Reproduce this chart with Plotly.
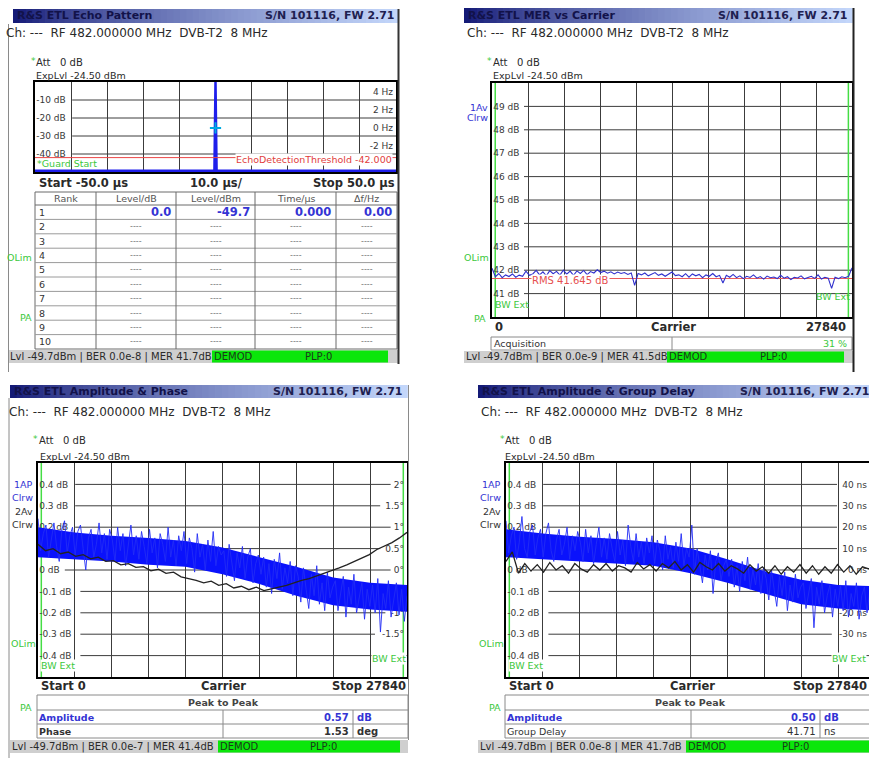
import numpy as np
import plotly.graph_objects as go

# ======================= DATA =======================
panel_titles = ["R&amp;S ETL Echo Pattern", "R&amp;S ETL MER vs Carrier",
                "R&amp;S ETL Amplitude &amp; Phase", "R&amp;S ETL Amplitude &amp; Group Delay"]
serial_text = "S/N 101116, FW 2.71"
channel_text = "Ch: ---\u00a0 RF 482.000000 MHz\u00a0 DVB-T2\u00a0 8 MHz"
att_text = "Att\u00a0\u00a0 0 dB"
explvl_text = "ExpLvl -24.50 dBm"
status_texts = ["Lvl -49.7dBm | BER 0.0e-8 | MER 41.7dB",
                "Lvl -49.7dBm | BER 0.0e-9 | MER 41.5dB",
                "Lvl -49.7dBm | BER 0.0e-7 | MER 41.4dB",
                "Lvl -49.7dBm | BER 0.0e-8 | MER 41.7dB"]
status_demod = "DEMOD"
status_plp = "PLP:0"

CARRIER_STOP = 27840
carrier_grid = [2784, 5568, 8352, 11136, 13920, 16704, 19488, 22272, 25056]
bw_ext_carriers = [250, 27560]

# --- panel 1: echo pattern
echo_time_us = [-50.0, -0.3, 0.0, 0.3, 50.0]
echo_level_db = [-49.3, -49.3, 0.0, -49.3, -49.3]
echo_threshold_db = -42.0
echo_threshold_label = "EchoDetectionThreshold -42.000"
echo_df_time_us = [0.0]
echo_df_hz = [0.0]
echo_db_ticks = [-10, -20, -30, -40]
echo_hz_ticks = [4, 2, 0, -2]
echo_time_ticks = [-40, -30, -20, -10, 0, 10, 20, 30, 40]
echo_axis_text = ["Start -50.0 µs", "10.0 µs/", "Stop 50.0 µs"]
echo_table_headers = ["Rank", "Level/dB", "Level/dBm", "Time/µs", "Δf/Hz"]
echo_table_ranks = [1, 2, 3, 4, 5, 6, 7, 8, 9, 10]
echo_table_row1 = ["0.0", "-49.7", "0.000", "0.00"]
echo_table_empty = "----"

# --- panel 2: MER vs carrier
mer_db = [42.08, 41.72, 41.86, 41.68, 41.80, 41.73, 41.84, 41.70, 41.79, 41.74,
          41.96, 41.78, 41.84, 41.99, 41.80, 41.93, 41.76, 41.98, 41.85, 41.95, 41.79,
          42.00, 41.83, 41.96, 41.78, 41.97, 41.86, 41.99, 41.81, 41.94, 41.88,
          42.02, 41.90, 41.96, 41.87, 41.93, 41.84, 41.92, 41.86, 41.90, 41.82, 41.88, 41.35,
          41.86, 41.80, 41.88, 41.76, 41.83, 41.90, 41.78, 41.84, 41.74, 41.82, 41.92, 41.77,
          41.80, 41.72, 41.85, 41.70,
          41.84, 41.76, 41.82, 41.68, 41.80, 41.74, 41.86, 41.72, 41.78, 41.45,
          41.78, 41.70, 41.82, 41.68, 41.76, 41.64, 41.74, 41.69, 41.80, 41.66, 41.73, 41.62,
          41.75, 41.68, 41.71, 41.64, 41.78, 41.66, 41.72, 41.60, 41.70, 41.67, 41.76, 41.63,
          41.69, 41.74, 41.65, 41.80, 41.62, 41.70,
          41.66, 41.22, 41.70, 41.64, 41.72, 41.68, 41.74, 42.10]
mer_rms_db = 41.645
mer_rms_label = "RMS 41.645 dB"
mer_ticks = [49, 48, 47, 46, 45, 44, 43, 42, 41]
mer_axis_text = ["0", "Carrier", "27840"]
acq_label = "Acquisition"
acq_value = "31 %"

# --- panel 3: amplitude & phase
env_carrier = [0, 2784, 5568, 8352, 11136, 13920, 16704, 19488, 22272, 25056, 27840]
amp3_upper = [0.20, 0.175, 0.16, 0.15, 0.135, 0.105, 0.06, 0.015, -0.035, -0.06, -0.07]
amp3_lower = [0.06, 0.05, 0.04, 0.025, 0.015, -0.02, -0.065, -0.12, -0.165, -0.185, -0.195]
amp3_noise = [0.24, 0.09, 0.17, 0.21, 0.06, 0.14, 0.22, 0.11, 0.04, 0.19, 0.23, 0.08, 0.16, 0.20,
              0.07, 0.18, 0.21, 0.10, 0.00, 0.15, 0.19, 0.06, 0.12, 0.22, 0.08, 0.17, 0.05, 0.19,
              0.14, 0.04, 0.20, 0.09, 0.17, 0.02, 0.13, 0.21, 0.07, 0.16, 0.05, 0.18, 0.11, 0.03,
              0.19, 0.08, 0.15, 0.01, 0.17, 0.12, 0.04, 0.20, 0.06, 0.14, 0.02, 0.16, 0.09, 0.18,
              0.03, 0.15, 0.10, -0.01, 0.17, 0.06, 0.12, 0.00, 0.14, 0.04, 0.18, 0.02, 0.11, 0.07,
              0.09, -0.03, 0.12, 0.04, -0.05, 0.08, 0.01, 0.11, -0.04, 0.06, 0.10, -0.06, 0.03, 0.07,
              -0.02, 0.06, -0.08, 0.03, -0.11, 0.05, -0.04, 0.08, -0.09, 0.01, -0.06, 0.04, -0.12, 0.02,
              -0.03, -0.15, 0.01, -0.09, -0.18, -0.02, -0.12, 0.02, -0.16, -0.06, -0.19, -0.01, -0.13, -0.08,
              -0.05, -0.19, -0.10, -0.03, -0.22, -0.08, -0.16, -0.02, -0.20, -0.12, -0.06, -0.23, -0.09, -0.17,
              -0.07, -0.20, -0.04, -0.29, -0.11, -0.18, -0.05, -0.22, -0.13, -0.06, -0.21, -0.09, -0.24, -0.12]
phase_deg = [0.60, 0.45, 0.50, 0.38, 0.42, 0.32, 0.36, 0.26, 0.30, 0.20,
             0.22, 0.12, 0.15, 0.06, 0.08, -0.02, 0.02, -0.08, -0.05, -0.16,
             -0.20, -0.24, -0.30, -0.26, -0.36, -0.32, -0.42, -0.38, -0.46, -0.40,
             -0.48, -0.44, -0.40, -0.36, -0.30, -0.24, -0.20, -0.14, -0.08, -0.02,
             0.05, 0.12, 0.20, 0.28, 0.36, 0.48, 0.56, 0.64, 0.75, 0.88]
amp_ticks = [0.4, 0.3, 0.2, 0.1, 0.0, -0.1, -0.2, -0.3, -0.4]
amp_labels = ["0.4 dB", "0.3 dB", "0.2 dB", "0.1 dB", "0 dB", "-0.1 dB", "-0.2 dB", "-0.3 dB", "-0.4 dB"]
phase_ticks = [2, 1.5, 1, 0.5, 0, -0.5, -1, -1.5]
phase_labels = ["2°", "1.5°", "1°", "0.5°", "0°", "-0.5°", "-1°", "-1.5°"]
p3_metrics = ["Amplitude", "Phase"]
p3_values = ["0.57", "1.53"]
p3_units = ["dB", "deg"]

# --- panel 4: amplitude & group delay
amp4_upper = [0.19, 0.17, 0.155, 0.145, 0.13, 0.10, 0.05, -0.005, -0.045, -0.07, -0.075]
amp4_lower = [0.06, 0.05, 0.04, 0.03, 0.02, -0.015, -0.06, -0.11, -0.16, -0.18, -0.19]
amp4_noise = [0.23, 0.08, 0.16, 0.20, 0.05, 0.13, 0.25, 0.10, 0.06, 0.18, 0.21, 0.07, 0.15, 0.19,
              0.06, 0.17, 0.22, 0.09, 0.04, 0.14, 0.19, 0.07, 0.12, 0.20, 0.05, 0.16, 0.09, 0.18,
              0.13, 0.04, 0.19, 0.08, 0.16, 0.03, 0.12, 0.20, 0.06, 0.15, 0.05, 0.17, 0.10, 0.04,
              0.18, 0.07, 0.14, 0.02, 0.21, 0.11, 0.04, 0.17, 0.06, 0.13, 0.03, 0.15, 0.08, 0.16,
              0.03, 0.14, 0.09, 0.00, 0.16, 0.05, 0.11, 0.01, 0.13, 0.04, 0.17, 0.02, 0.10, 0.06,
              0.21, -0.02, 0.10, 0.03, -0.06, 0.07, 0.00, 0.09, -0.11, 0.04, 0.08, -0.05, 0.02, 0.05,
              -0.03, 0.05, -0.08, 0.02, -0.10, 0.04, -0.05, 0.06, -0.09, 0.00, -0.07, 0.03, -0.11, 0.01,
              -0.04, -0.14, 0.00, -0.09, -0.17, -0.03, -0.12, -0.01, -0.19, -0.07, -0.15, -0.02, -0.13, -0.08,
              -0.06, -0.18, -0.10, -0.04, -0.27, -0.08, -0.16, -0.05, -0.20, -0.12, -0.07, -0.22, -0.09, -0.17,
              -0.07, -0.19, -0.05, -0.22, -0.11, -0.17, -0.06, -0.23, -0.12, -0.08, -0.20, -0.10, -0.21, -0.13]
group_delay_ns = [4.0, 8.5, -1.5, 3.0, -0.5, 2.5, -1.0, 3.5, 0.0, 2.0,
                  -1.5, 3.0, 0.5, -1.0, 2.5, 0.0, 3.0, -0.5, 2.0, 1.0,
                  -1.0, 3.5, 0.5, 2.5, -0.5, 3.0, 1.0, 4.0, 0.0, 2.5,
                  -1.0, 3.5, 1.5, 0.0, 3.0, -0.5, 2.0, 0.5, -1.5, 2.5,
                  -0.5, 1.5, -1.5, 2.0, -2.0, 1.5, -1.0, 2.5, -1.5, 2.0,
                  -2.0, 1.5, -1.5, 2.5, -1.0, 2.0, -2.0, 1.5, 0.5, 3.5]
gd_ticks = [40, 30, 20, 10, 0, -10, -20, -30]
gd_labels = ["40 ns", "30 ns", "20 ns", "10 ns", "0 ns", "-10 ns", "-20 ns", "-30 ns"]
carrier_axis_text = ["Start 0", "Carrier", "Stop 27840"]
p4_metrics = ["Amplitude", "Group Delay"]
p4_values = ["0.50", "41.71"]
p4_units = ["dB", "ns"]
peak_header = "Peak to Peak"

# ======================= STYLE / LAYOUT HELPERS =======================
W, H = 869, 758
FONT = "DejaVu Sans"
GRID = "#3c3c3c"
GREEN = "#3cc83c"
BLUE_T = "#3434d4"
TRACE_BLUE = "rgb(10,18,252)"
DARK = "#2a2a2a"
CHAR_W = 5.2   # approx width of a 9px tick-label character


def X(px):
    return px / W


def Y(py):
    return 1 - py / H


shapes = []
annotations = []


def rect(x0, y0, x1, y1, fill="rgba(0,0,0,0)", lc="rgba(0,0,0,0)", lw=0, layer="above"):
    shapes.append(dict(type="rect", xref="paper", yref="paper", x0=X(x0), x1=X(x1),
                       y0=Y(y1), y1=Y(y0), fillcolor=fill, layer=layer,
                       line=dict(color=lc, width=lw)))


def line(x0, y0, x1, y1, color="#666", width=1, layer="above"):
    shapes.append(dict(type="line", xref="paper", yref="paper", x0=X(x0), x1=X(x1),
                       y0=Y(y0), y1=Y(y1), layer=layer, line=dict(color=color, width=width)))


def text(px, py, s, size=10, color=DARK, anchor="left", bold=False, bg=None):
    a = dict(xref="paper", yref="paper", x=X(px), y=Y(py), text=("<b>%s</b>" % s) if bold else s,
             showarrow=False, xanchor=anchor, yanchor="middle", borderpad=0,
             font=dict(family=FONT, size=size, color=color))
    if bg:
        a["bgcolor"] = bg
    annotations.append(a)


def title_bar(x0, y0, x1, y1, title):
    n = 60
    c0 = np.array([20, 26, 118])
    c1 = np.array([195, 214, 250])
    step = (x1 - x0) / n
    for i in range(n):
        t = (i / (n - 1)) ** 0.75
        c = c0 + (c1 - c0) * t
        rect(x0 + i * step, y0, x0 + (i + 1) * step + 0.8, y1,
             fill="rgb(%d,%d,%d)" % tuple(c.astype(int)))
    text(x0 + 3, (y0 + y1) / 2, title, size=11, color="#12124a", bold=True)


def status_bar(x0, x1, y0, y1, gx0, gx1, s, plp_x):
    rect(x0, y0, x1, y1, fill="#cfcfcf")
    rect(gx0, y0 + 0.5, gx1, y1 - 0.5, fill="#0ae60a")
    text(x0 + 1, (y0 + y1) / 2, s, size=10, color="#2a2a2a")
    text(gx0 + 1, (y0 + y1) / 2, status_demod, size=10, color="#1a3a1a")
    text(plp_x, (y0 + y1) / 2, status_plp, size=10, color="#1a3a1a", anchor="center")


def grid_h(xa, ya, ticks, left_labels, box_w, right_labels=None):
    """horizontal grid lines at the tick values; they stop at the in-plot labels."""
    for i, v in enumerate(ticks):
        x0 = (6 + len(left_labels[i]) * CHAR_W) / box_w
        x1 = 1.0
        if right_labels and right_labels.get(i):
            x1 = 1 - (6 + len(right_labels[i]) * CHAR_W) / box_w
        shapes.append(dict(type="line", xref=xa + " domain", yref=ya, x0=x0, x1=x1, y0=v, y1=v,
                           layer="below", line=dict(color=GRID, width=1)))


def green_lines(xa, ya, carriers):
    for c in carriers:
        shapes.append(dict(type="line", xref=xa, yref=ya + " domain", x0=c, x1=c, y0=0, y1=1,
                           layer="below", line=dict(color="#44dd44", width=1.5)))


def xax(x0, x1, rng, ticks, anchor, mirror=True):
    return dict(domain=[X(x0), min(1.0, X(x1))], range=rng, tickvals=ticks, showticklabels=False,
                ticks="", showgrid=True, gridcolor=GRID, gridwidth=1, zeroline=False,
                showline=True, mirror=mirror, linecolor="black", linewidth=2, anchor=anchor,
                layer="below traces", fixedrange=True)


def yax(y_top, y_bot, rng, ticks, labels, anchor, mirror=True):
    return dict(domain=[Y(y_bot), Y(y_top)], range=rng, tickvals=ticks, ticktext=labels,
                ticklabelposition="inside", ticks="", showgrid=False,
                zeroline=False, showline=True, mirror=mirror, linecolor="black", linewidth=2,
                anchor=anchor, layer="below traces", fixedrange=True,
                tickfont=dict(family=FONT, size=9, color="#383838"))


def yax_r(overlay, rng, ticks, labels, anchor, standoff=0):
    return dict(overlaying=overlay, side="right", range=rng, tickvals=ticks, ticktext=labels,
                ticklabelposition="inside", ticklabelstandoff=standoff, ticks="", showgrid=False,
                zeroline=False, showline=False, anchor=anchor, layer="below traces", fixedrange=True,
                tickfont=dict(family=FONT, size=9, color="#383838"))


fig = go.Figure()

# ======================= PANEL 1 : Echo pattern =======================
fig.add_trace(go.Scatter(x=echo_time_us, y=echo_level_db, xaxis="x", yaxis="y", mode="lines",
                         line=dict(color="rgb(30,30,235)", width=2.5)))
fig.add_trace(go.Scatter(x=[-50, 50], y=[echo_threshold_db, echo_threshold_db], xaxis="x", yaxis="y",
                         mode="lines", line=dict(color="rgb(235,70,70)", width=1)))
fig.add_trace(go.Scatter(x=echo_df_time_us, y=echo_df_hz, xaxis="x", yaxis="y5", mode="markers",
                         marker=dict(symbol="cross-thin", size=8, line=dict(color="rgb(0,170,225)", width=2))))

title_bar(13, 9, 398, 23, panel_titles[0])
text(396, 16, serial_text, size=11, color="#1e2050", anchor="right", bold=True)
text(5, 33, channel_text, size=12)
text(30, 61, "*", size=9, color=GREEN)
text(35, 62, att_text, size=10)
text(35, 76, explvl_text, size=9.5)
echo_db_labels = ["%d dB" % v for v in echo_db_ticks]
grid_h("x", "y", echo_db_ticks, echo_db_labels, 361)
text(36, 164, "*Guard Start", size=9.5, color=GREEN)
text(393, 160, echo_threshold_label, size=9.5, color="rgb(225,60,60)", anchor="right", bg="white")
text(38, 183, echo_axis_text[0], size=11.5, bold=True)
text(216, 183, echo_axis_text[1], size=11.5, bold=True, anchor="center")
text(396, 183, echo_axis_text[2], size=11.5, bold=True, anchor="right")

# echo table
tb_cols = [35, 96, 176, 255, 336, 397]
tb_top, tb_head, tb_row_h = 192, 205, 14.4
rect(35, tb_top, 397, 349, lc="#6a6a6a", lw=1)
line(35, tb_head, 397, tb_head, color="#6a6a6a", width=1)
for k in range(1, 10):
    yy = tb_head + k * tb_row_h
    line(35, yy, 397, yy, color="#9a9a9a", width=1)
for cx in tb_cols[1:-1]:
    line(cx, tb_top, cx, 349, color="#6a6a6a", width=1)
for i, hname in enumerate(echo_table_headers):
    text((tb_cols[i] + tb_cols[i + 1]) / 2, 198.5, hname, size=9.5, color="#555", anchor="center")
for r, rank in enumerate(echo_table_ranks):
    yc = tb_head + (r + 0.5) * tb_row_h
    text(38, yc, str(rank), size=9.5, color="#333")
    for c in range(4):
        if r == 0:
            text(tb_cols[c + 2] - 4, yc, echo_table_row1[c], size=11.5, color=BLUE_T, anchor="right", bold=True)
        else:
            text((tb_cols[c + 1] + tb_cols[c + 2]) / 2, yc, echo_table_empty, size=8, color="#777", anchor="center")
text(33, 257, "OLim", size=9.5, color=GREEN, anchor="right")
text(33, 317, "PA", size=9.5, color=GREEN, anchor="right")
status_bar(8, 398, 350, 363, 212, 388, status_texts[0], 318)
line(8.5, 24, 8.5, 372, color="#8a8a8a", width=1)
line(398.5, 9, 398.5, 364, color="#333", width=2)

# ======================= PANEL 2 : MER vs carrier =======================
mer_x = np.linspace(0, CARRIER_STOP, len(mer_db))
fig.add_trace(go.Scatter(x=[0, CARRIER_STOP], y=[mer_rms_db, mer_rms_db], xaxis="x2", yaxis="y2",
                         mode="lines", line=dict(color="rgb(235,90,90)", width=1.2)))
fig.add_trace(go.Scatter(x=mer_x, y=mer_db, xaxis="x2", yaxis="y2", mode="lines",
                         line=dict(color="rgb(48,48,205)", width=1.1)))

title_bar(464, 8, 852, 23, panel_titles[1])
text(849, 15.5, serial_text, size=11, color="#1e2050", anchor="right", bold=True)
text(466, 33, channel_text, size=12)
text(486, 61, "*", size=9, color=GREEN)
text(492, 62, att_text, size=10)
text(492, 76, explvl_text, size=9.5)
mer_labels = ["%d dB" % v for v in mer_ticks]
grid_h("x2", "y2", mer_ticks, mer_labels, 360)
green_lines("x2", "y2", bw_ext_carriers)
text(489, 107, "1Av", size=9.5, color=BLUE_T, anchor="right")
text(489, 118, "Clrw", size=9.5, color=BLUE_T, anchor="right")
text(490, 257, "OLim", size=9.5, color=GREEN, anchor="right")
text(487, 318, "PA", size=9.5, color=GREEN, anchor="right")
text(494, 304, "BW Ext", size=9.5, color=GREEN)
text(851, 297, "BW Ext", size=9.5, color=GREEN, anchor="right")
text(531, 280, mer_rms_label, size=10, color="rgb(230,80,80)", bg="white")
text(494, 327, mer_axis_text[0], size=11.5, bold=True)
text(673, 327, mer_axis_text[1], size=11.5, bold=True, anchor="center")
text(847, 327, mer_axis_text[2], size=11.5, bold=True, anchor="right")
rect(491, 337, 852, 350, lc="#8a8a8a", lw=1)
line(672, 337, 672, 350, color="#8a8a8a")
text(493, 344, acq_label, size=9.5, color="#333")
text(848, 344, acq_value, size=9.5, color=GREEN, anchor="right")
status_bar(464, 853, 351, 363, 667, 844, status_texts[1], 773)
line(853.5, 8, 853.5, 372, color="#222", width=2)

# ======================= PANEL 3 : Amplitude & Phase =======================
fig.add_trace(go.Scatter(x=env_carrier, y=amp3_upper, xaxis="x3", yaxis="y3", mode="lines",
                         line=dict(width=0, color=TRACE_BLUE)))
fig.add_trace(go.Scatter(x=env_carrier, y=amp3_lower, xaxis="x3", yaxis="y3", mode="lines",
                         line=dict(width=0, color=TRACE_BLUE), fill="tonexty", fillcolor=TRACE_BLUE))
fig.add_trace(go.Scatter(x=np.linspace(0, CARRIER_STOP, len(amp3_noise)), y=amp3_noise,
                         xaxis="x3", yaxis="y3", mode="lines",
                         line=dict(color="rgb(35,45,245)", width=0.9)))
fig.add_trace(go.Scatter(x=np.linspace(0, CARRIER_STOP, len(phase_deg)), y=phase_deg,
                         xaxis="x3", yaxis="y6", mode="lines",
                         line=dict(color="rgb(35,35,35)", width=1.3)))

title_bar(10, 385, 407, 398, panel_titles[2])
text(404, 391.5, serial_text, size=11, color="#1e2050", anchor="right", bold=True)
text(8, 412, channel_text, size=12)
text(32, 439, "*", size=9, color=GREEN)
text(38, 440, att_text, size=10)
text(39, 456, explvl_text, size=9.5)
# right labels that share a grid line with the dB scale (phase = 5 x dB)
p3_right = {i: phase_labels[phase_ticks.index(v * 5)] for i, v in enumerate(amp_ticks)
            if round(v * 5, 3) in phase_ticks}
grid_h("x3", "y3", amp_ticks, amp_labels, 369, p3_right)
green_lines("x3", "y3", bw_ext_carriers)
text(34, 484, "1AP", size=9.5, color=BLUE_T, anchor="right")
text(34, 497, "Clrw", size=9.5, color=BLUE_T, anchor="right")
text(34, 511, "2Av", size=9.5, color="#333", anchor="right")
text(34, 524, "Clrw", size=9.5, color="#333", anchor="right")
text(37, 643, "OLim", size=9.5, color=GREEN, anchor="right")
text(33, 707, "PA", size=9.5, color=GREEN, anchor="right")
text(40, 665, "BW Ext", size=9.5, color=GREEN, bg="white")
text(407, 658, "BW Ext", size=9.5, color=GREEN, anchor="right", bg="white")
text(40, 686, carrier_axis_text[0], size=11.5, bold=True)
text(223, 686, carrier_axis_text[1], size=11.5, bold=True, anchor="center")
text(407, 686, carrier_axis_text[2], size=11.5, bold=True, anchor="right")
# peak-to-peak table
rect(37, 695, 408, 738, lc="#8a8a8a", lw=1)
line(37, 710, 408, 710, color="#8a8a8a")
line(37, 724, 408, 724, color="#8a8a8a")
line(223, 710, 223, 738, color="#8a8a8a")
line(353, 710, 353, 738, color="#8a8a8a")
text(223, 702.5, peak_header, size=9.5, color="#444", anchor="center", bold=True)
for i in range(2):
    yc = 717 + i * 14
    col = BLUE_T if i == 0 else "#333"
    text(38, yc, p3_metrics[i], size=9.5, color=col, bold=True)
    text(350, yc, p3_values[i], size=10, color=col, anchor="right", bold=True)
    text(356, yc, p3_units[i], size=10, color=col, bold=True)
status_bar(10, 408, 740, 753, 218, 400, status_texts[2], 323)
line(9, 398, 9, 758, color="#8a8a8a", width=1)
line(408.5, 385, 408.5, 740, color="#8a8a8a", width=1)

# ======================= PANEL 4 : Amplitude & Group delay =======================
p4_xmax = CARRIER_STOP * (869 - 506) / 369.0
fig.add_trace(go.Scatter(x=env_carrier, y=amp4_upper, xaxis="x4", yaxis="y4", mode="lines",
                         line=dict(width=0, color=TRACE_BLUE)))
fig.add_trace(go.Scatter(x=env_carrier, y=amp4_lower, xaxis="x4", yaxis="y4", mode="lines",
                         line=dict(width=0, color=TRACE_BLUE), fill="tonexty", fillcolor=TRACE_BLUE))
fig.add_trace(go.Scatter(x=np.linspace(0, CARRIER_STOP, len(amp4_noise)), y=amp4_noise,
                         xaxis="x4", yaxis="y4", mode="lines",
                         line=dict(color="rgb(35,45,245)", width=0.9)))
fig.add_trace(go.Scatter(x=np.linspace(0, CARRIER_STOP, len(group_delay_ns)), y=group_delay_ns,
                         xaxis="x4", yaxis="y7", mode="lines",
                         line=dict(color="rgb(35,35,35)", width=1.3)))

title_bar(478, 385, 875, 398, panel_titles[3])
text(871, 391.5, serial_text, size=11, color="#1e2050", anchor="right", bold=True)
text(480, 412, channel_text, size=12)
text(499, 439, "*", size=9, color=GREEN)
text(504, 440, att_text, size=10)
text(504, 456, explvl_text, size=9.5)
p4_right = {i: gd_labels[gd_ticks.index(int(round(v * 100)))] for i, v in enumerate(amp_ticks)
            if int(round(v * 100)) in gd_ticks}
grid_h("x4", "y4", amp_ticks, amp_labels, 363, p4_right)
green_lines("x4", "y4", bw_ext_carriers)
text(502, 484, "1AP", size=9.5, color=BLUE_T, anchor="right")
text(502, 497, "Clrw", size=9.5, color=BLUE_T, anchor="right")
text(502, 511, "2Av", size=9.5, color="#333", anchor="right")
text(502, 524, "Clrw", size=9.5, color="#333", anchor="right")
text(505, 643, "OLim", size=9.5, color=GREEN, anchor="right")
text(502, 707, "PA", size=9.5, color=GREEN, anchor="right")
text(508, 665, "BW Ext", size=9.5, color=GREEN, bg="white")
text(867, 658, "BW Ext", size=9.5, color=GREEN, anchor="right", bg="white")
text(508, 686, carrier_axis_text[0], size=11.5, bold=True)
text(692, 686, carrier_axis_text[1], size=11.5, bold=True, anchor="center")
text(868, 686, carrier_axis_text[2], size=11.5, bold=True, anchor="right")
rect(505, 695, 880, 738, lc="#8a8a8a", lw=1)
line(505, 710, 880, 710, color="#8a8a8a")
line(505, 724, 880, 724, color="#8a8a8a")
line(691, 710, 691, 738, color="#8a8a8a")
line(820, 710, 820, 738, color="#8a8a8a")
text(690, 702.5, peak_header, size=9.5, color="#444", anchor="center", bold=True)
for i in range(2):
    yc = 717 + i * 14
    col = BLUE_T if i == 0 else "#333"
    text(506, yc, p4_metrics[i], size=9.5, color=col, bold=(i == 0))
    text(817, yc, p4_values[i], size=10, color=col, anchor="right", bold=(i == 0))
    text(823, yc, p4_units[i], size=10, color=col, bold=(i == 0))
status_bar(478, 880, 740, 753, 686, 880, status_texts[3], 795)

# ======================= AXES =======================
layout_axes = dict(
    xaxis=xax(35, 396, [-50, 50], echo_time_ticks, "y"),
    yaxis=yax(82, 172, [-50, 0], echo_db_ticks, echo_db_labels, "x"),
    yaxis5=yax_r("y", [-4.9, 5.1], echo_hz_ticks, ["%d Hz" % v for v in echo_hz_ticks], "x"),
    xaxis2=xax(492, 852, [0, CARRIER_STOP], carrier_grid, "y2"),
    yaxis2=yax(83, 317, [40, 50], mer_ticks, mer_labels, "x2"),
    xaxis3=xax(38, 407, [0, CARRIER_STOP], carrier_grid, "y3"),
    yaxis3=yax(463, 677, [-0.5, 0.5], amp_ticks, amp_labels, "x3"),
    yaxis6=yax_r("y3", [-2.5, 2.5], phase_ticks, phase_labels, "x3"),
    xaxis4=xax(506, 869, [0, p4_xmax], carrier_grid, "y4"),
    yaxis4=yax(463, 677, [-0.5, 0.5], amp_ticks, amp_labels, "x4", mirror=False),
    yaxis7=yax_r("y4", [-50, 50], gd_ticks, gd_labels, "x4", standoff=-1),
)

fig.update_layout(
    width=W, height=H, autosize=False,
    margin=dict(l=0, r=0, t=0, b=0, pad=0),
    paper_bgcolor="white", plot_bgcolor="white",
    showlegend=False, hovermode=False,
    font=dict(family=FONT, size=10, color=DARK),
    shapes=shapes, annotations=annotations,
    **layout_axes,
)

# the page's default 8px body margin would shift the fixed-size figure; remove it
fig.write_html("out.html", config={"displayModeBar": False},
               post_script="document.body.style.margin='0';document.body.style.overflow='hidden';")
